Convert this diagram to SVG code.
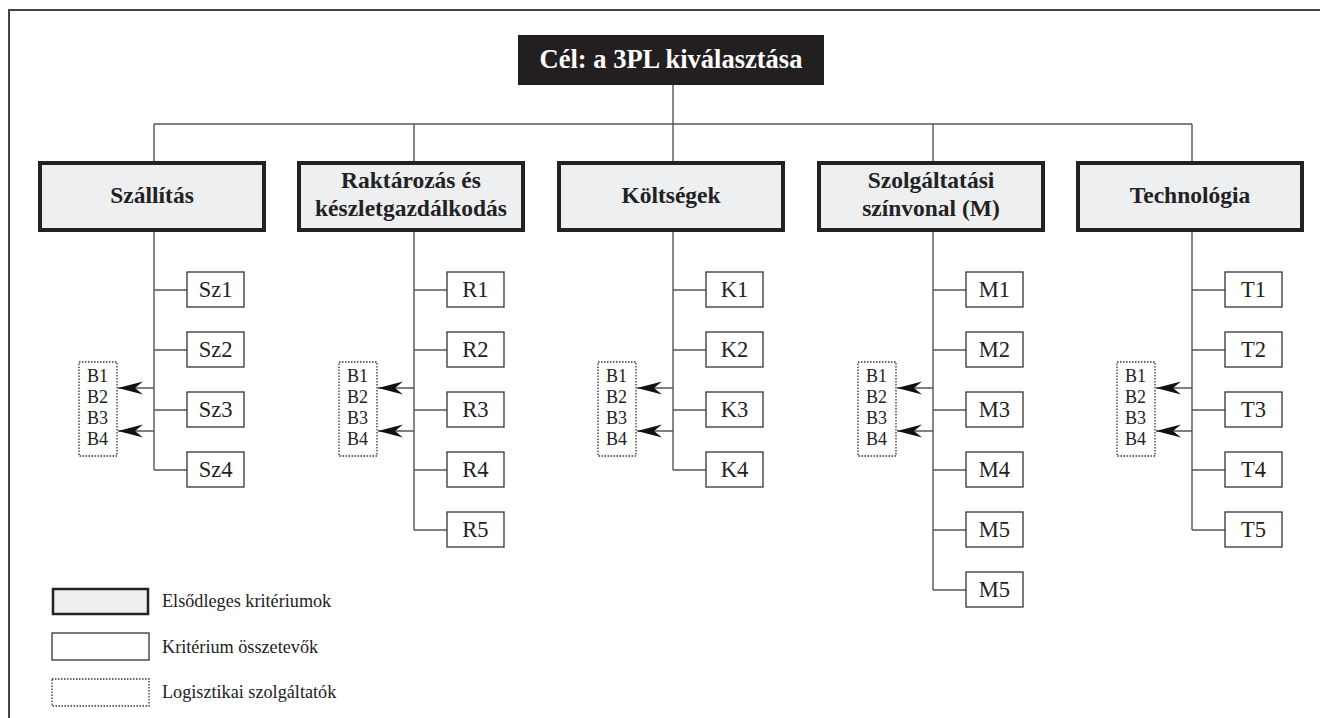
<svg xmlns="http://www.w3.org/2000/svg" width="1320" height="718" viewBox="0 0 1320 718">
<defs>
<style>
.frame{fill:none;stroke:#444;stroke-width:2}
.ln{fill:none;stroke:#555;stroke-width:1.4}
.cat{fill:#eeeff1;stroke:#222;stroke-width:4}
.sub{fill:#fff;stroke:#333;stroke-width:1.3}
.dot{fill:#fff;stroke:#333;stroke-width:1.3;stroke-dasharray:1.5 1.5}
.t{font-family:"Liberation Serif","Times New Roman",serif;fill:#222}
.cl{font-size:23.5px;font-weight:bold;text-anchor:middle}
.sl{font-size:22.5px;text-anchor:middle}
.bl{font-size:18px}
.lg{font-size:18.2px}
</style>
<marker id="ah" markerUnits="userSpaceOnUse" markerWidth="30" markerHeight="16" viewBox="-26 -8 30 16" refX="0" refY="0" orient="auto" overflow="visible">
<path d="M0,0 L-25,-6.5 L-17,0 L-25,6.5 Z" fill="#111"/>
</marker>
</defs>
<rect width="1320" height="718" fill="#fff"/>
<path class="frame" d="M9,718 V10 H1320"/>

<g id="connectors">
<path class="ln" d="M673,85 V124 M154,124 H1192 M154,124 V161 M414,124 V161 M673,124 V161 M933,124 V161 M1192,124 V161"/>
<path class="ln" d="M154,231 V470 M154,290 H187 M154,350 H187 M154,410 H187 M154,470 H187"/>
<path class="ln" d="M414,231 V530 M414,290 H447 M414,350 H447 M414,410 H447 M414,470 H447 M414,530 H447"/>
<path class="ln" d="M673,231 V470 M673,290 H706 M673,350 H706 M673,410 H706 M673,470 H706"/>
<path class="ln" d="M933,231 V590 M933,290 H966 M933,350 H966 M933,410 H966 M933,470 H966 M933,530 H966 M933,590 H966"/>
<path class="ln" d="M1192,231 V530 M1192,290 H1225 M1192,350 H1225 M1192,410 H1225 M1192,470 H1225 M1192,530 H1225"/>
<g marker-end="url(#ah)">
<path class="ln" d="M154,388 H118"/><path class="ln" d="M154,431 H118"/>
<path class="ln" d="M414,388 H378"/><path class="ln" d="M414,431 H378"/>
<path class="ln" d="M673,388 H637"/><path class="ln" d="M673,431 H637"/>
<path class="ln" d="M933,388 H897"/><path class="ln" d="M933,431 H897"/>
<path class="ln" d="M1192,388 H1156"/><path class="ln" d="M1192,431 H1156"/>
</g>
</g>

<g id="goal">
<rect x="518" y="35" width="306" height="50" fill="#231f20"/>
<text class="t" x="671" y="68" font-size="26.5" font-weight="bold" text-anchor="middle" style="fill:#fff">Cél: a 3PL kiválasztása</text>
</g>

<g id="cat-szallitas"><rect class="cat" x="40" y="163" width="224" height="67"/><text class="t cl" x="152" y="203">Szállítás</text></g>
<g id="cat-raktarozas"><rect class="cat" x="299" y="163" width="224" height="67"/><text class="t cl" x="411" y="188">Raktározás és</text><text class="t cl" x="411" y="216">készletgazdálkodás</text></g>
<g id="cat-koltsegek"><rect class="cat" x="559" y="163" width="224" height="67"/><text class="t cl" x="671" y="203">Költségek</text></g>
<g id="cat-szolgaltatasi"><rect class="cat" x="819" y="163" width="224" height="67"/><text class="t cl" x="931" y="188">Szolgáltatási</text><text class="t cl" x="931" y="216">színvonal (M)</text></g>
<g id="cat-technologia"><rect class="cat" x="1078" y="163" width="224" height="67"/><text class="t cl" x="1190" y="203">Technológia</text></g>

<g id="sz1"><rect class="sub" x="187" y="272" width="57" height="35"/><text class="t sl" x="215.5" y="297">Sz1</text></g>
<g id="sz2"><rect class="sub" x="187" y="332" width="57" height="35"/><text class="t sl" x="215.5" y="357">Sz2</text></g>
<g id="sz3"><rect class="sub" x="187" y="392" width="57" height="35"/><text class="t sl" x="215.5" y="417">Sz3</text></g>
<g id="sz4"><rect class="sub" x="187" y="452" width="57" height="35"/><text class="t sl" x="215.5" y="477">Sz4</text></g>

<g id="r1"><rect class="sub" x="447" y="272" width="57" height="35"/><text class="t sl" x="475.5" y="297">R1</text></g>
<g id="r2"><rect class="sub" x="447" y="332" width="57" height="35"/><text class="t sl" x="475.5" y="357">R2</text></g>
<g id="r3"><rect class="sub" x="447" y="392" width="57" height="35"/><text class="t sl" x="475.5" y="417">R3</text></g>
<g id="r4"><rect class="sub" x="447" y="452" width="57" height="35"/><text class="t sl" x="475.5" y="477">R4</text></g>
<g id="r5"><rect class="sub" x="447" y="512" width="57" height="35"/><text class="t sl" x="475.5" y="537">R5</text></g>

<g id="k1"><rect class="sub" x="706" y="272" width="57" height="35"/><text class="t sl" x="734.5" y="297">K1</text></g>
<g id="k2"><rect class="sub" x="706" y="332" width="57" height="35"/><text class="t sl" x="734.5" y="357">K2</text></g>
<g id="k3"><rect class="sub" x="706" y="392" width="57" height="35"/><text class="t sl" x="734.5" y="417">K3</text></g>
<g id="k4"><rect class="sub" x="706" y="452" width="57" height="35"/><text class="t sl" x="734.5" y="477">K4</text></g>

<g id="m1"><rect class="sub" x="966" y="272" width="57" height="35"/><text class="t sl" x="994.5" y="297">M1</text></g>
<g id="m2"><rect class="sub" x="966" y="332" width="57" height="35"/><text class="t sl" x="994.5" y="357">M2</text></g>
<g id="m3"><rect class="sub" x="966" y="392" width="57" height="35"/><text class="t sl" x="994.5" y="417">M3</text></g>
<g id="m4"><rect class="sub" x="966" y="452" width="57" height="35"/><text class="t sl" x="994.5" y="477">M4</text></g>
<g id="m5"><rect class="sub" x="966" y="512" width="57" height="35"/><text class="t sl" x="994.5" y="537">M5</text></g>
<g id="m5b"><rect class="sub" x="966" y="572" width="57" height="35"/><text class="t sl" x="994.5" y="597">M5</text></g>

<g id="t1"><rect class="sub" x="1225" y="272" width="57" height="35"/><text class="t sl" x="1253.5" y="297">T1</text></g>
<g id="t2"><rect class="sub" x="1225" y="332" width="57" height="35"/><text class="t sl" x="1253.5" y="357">T2</text></g>
<g id="t3"><rect class="sub" x="1225" y="392" width="57" height="35"/><text class="t sl" x="1253.5" y="417">T3</text></g>
<g id="t4"><rect class="sub" x="1225" y="452" width="57" height="35"/><text class="t sl" x="1253.5" y="477">T4</text></g>
<g id="t5"><rect class="sub" x="1225" y="512" width="57" height="35"/><text class="t sl" x="1253.5" y="537">T5</text></g>

<g id="b-sz"><rect class="dot" x="79" y="362" width="38" height="94"/><text class="t bl" x="87" y="382">B1</text><text class="t bl" x="87" y="403">B2</text><text class="t bl" x="87" y="424">B3</text><text class="t bl" x="87" y="445">B4</text></g>
<g id="b-r"><rect class="dot" x="339" y="362" width="38" height="94"/><text class="t bl" x="347" y="382">B1</text><text class="t bl" x="347" y="403">B2</text><text class="t bl" x="347" y="424">B3</text><text class="t bl" x="347" y="445">B4</text></g>
<g id="b-k"><rect class="dot" x="598" y="362" width="38" height="94"/><text class="t bl" x="606" y="382">B1</text><text class="t bl" x="606" y="403">B2</text><text class="t bl" x="606" y="424">B3</text><text class="t bl" x="606" y="445">B4</text></g>
<g id="b-m"><rect class="dot" x="858" y="362" width="38" height="94"/><text class="t bl" x="866" y="382">B1</text><text class="t bl" x="866" y="403">B2</text><text class="t bl" x="866" y="424">B3</text><text class="t bl" x="866" y="445">B4</text></g>
<g id="b-t"><rect class="dot" x="1117" y="362" width="38" height="94"/><text class="t bl" x="1125" y="382">B1</text><text class="t bl" x="1125" y="403">B2</text><text class="t bl" x="1125" y="424">B3</text><text class="t bl" x="1125" y="445">B4</text></g>

<g id="legend">
<rect x="53" y="589" width="95" height="25" fill="#eeeff1" stroke="#222" stroke-width="2.5"/>
<text class="t lg" x="162" y="607">Elsődleges kritériumok</text>
<rect class="sub" x="52" y="633" width="97" height="27"/>
<text class="t lg" x="162" y="653">Kritérium összetevők</text>
<rect class="dot" x="52" y="679" width="97" height="27"/>
<text class="t lg" x="162" y="698">Logisztikai szolgáltatók</text>
</g>
</svg>
